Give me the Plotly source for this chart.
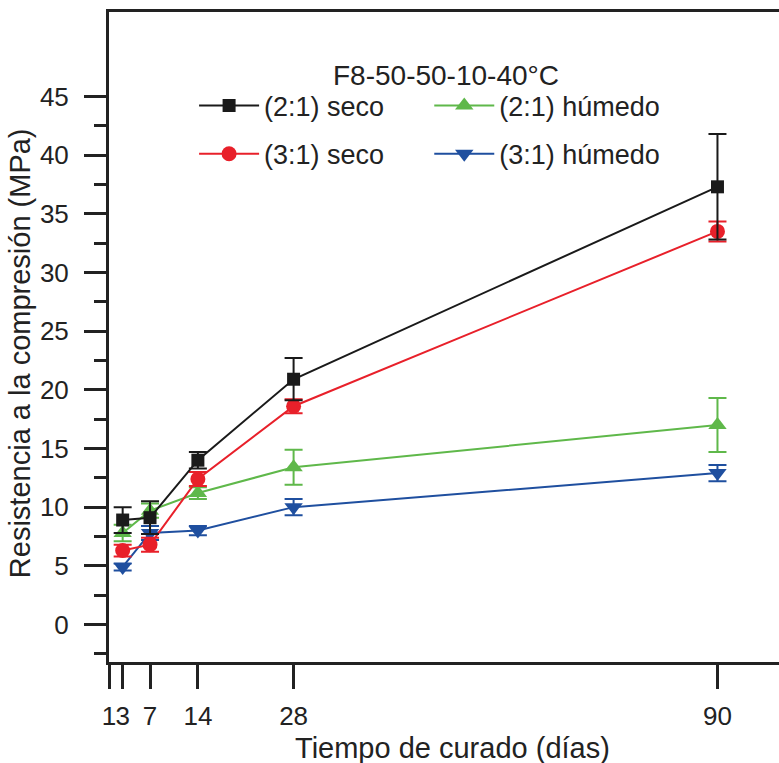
import plotly.graph_objects as go

days = [3, 7, 14, 28, 90]
tick_days = [1, 3, 7, 14, 28, 90]
tick_labels = ["1", "3", "7", "14", "28", "90"]

seco21 = [8.9, 9.1, 14.0, 20.9, 37.3]
seco21_err = [1.1, 1.4, 0.7, 1.8, 4.5]
seco31 = [6.3, 6.8, 12.4, 18.6, 33.5]
seco31_err = [0.5, 0.6, 0.6, 0.6, 0.85]
hum21 = [7.8, 9.7, 11.2, 13.4, 17.0]
hum21_err = [0.7, 0.6, 0.5, 1.5, 2.3]
hum31 = [4.9, 7.8, 8.0, 10.0, 12.9]
hum31_err = [0.3, 0.6, 0.4, 0.7, 0.7]

FONT = "Liberation Sans, Arial, sans-serif"
TXT = "#222"
fig = go.Figure()

series = [
    ("(2:1) húmedo", hum21, hum21_err, "#5fb84a", "triangle-up", 16, "legend2", 1),
    ("(3:1) húmedo", hum31, hum31_err, "#1f4f9f", "triangle-down", 16, "legend2", 2),
    ("(3:1) seco", seco31, seco31_err, "#e8202a", "circle", 15, "legend", 2),
    ("(2:1) seco", seco21, seco21_err, "#1a1a1a", "square", 13, "legend", 1),
]
for name, y, e, c, sym, sz, lg, rank in series:
    fig.add_trace(go.Scatter(
        x=days, y=y, name=name, mode="lines+markers",
        line=dict(color=c, width=2),
        marker=dict(symbol=sym, size=sz, color=c),
        error_y=dict(type="data", array=e, visible=True, color=c, thickness=2, width=9),
        legend=lg, legendgroup=name, legendrank=rank,
    ))

axis_common = dict(showline=True, linewidth=3, linecolor=TXT, ticks="outside",
                   tickwidth=3, tickcolor=TXT, showgrid=False, zeroline=False,
                   tickfont=dict(family=FONT, size=26, color=TXT))

leg_common = dict(yanchor="top", xanchor="left", traceorder="grouped", tracegroupgap=10,
                  itemwidth=60, font=dict(family=FONT, size=27, color=TXT),
                  bgcolor="rgba(0,0,0,0)")

fig.update_layout(
    width=779, height=763,
    margin=dict(l=109, r=0, t=12, b=101),
    plot_bgcolor="white", paper_bgcolor="white",
    showlegend=True,
    xaxis=dict(range=[1, 99], tickvals=tick_days, ticktext=tick_labels, ticklen=24,
               tickangle=0, mirror=True, ticklabelstandoff=5, **axis_common),
    yaxis=dict(range=[-3.2, 52.2], tickvals=list(range(0, 50, 5)), ticklen=22, ticklabelstandoff=10,
               minor=dict(tickvals=[-2.5 + 5 * k for k in range(10)], ticklen=12, tickwidth=3,
                          tickcolor=TXT, ticks="outside"),
               **axis_common),
    legend=dict(x=0.127, y=0.893, **leg_common),
    legend2=dict(x=0.478, y=0.893, **leg_common),
    annotations=[
        dict(text="F8-50-50-10-40°C", xref="paper", yref="paper", x=0.503, y=0.929,
             showarrow=False, font=dict(family=FONT, size=28, color=TXT)),
        dict(text="Tiempo de curado (días)", xref="paper", yref="paper", x=0.512, y=-0.132,
             yanchor="middle", showarrow=False, font=dict(family=FONT, size=29, color=TXT)),
        dict(text="Resistencia a la compresión (MPa)", xref="paper", yref="paper", x=-0.133, y=0.475,
             textangle=-90, xanchor="center", yanchor="middle", showarrow=False,
             font=dict(family=FONT, size=29, color=TXT)),
    ],
)

fig.write_html("out.html")
